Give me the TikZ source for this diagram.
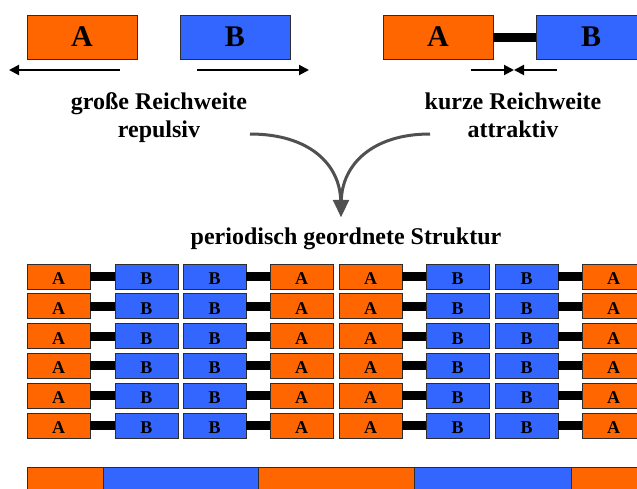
\documentclass[tikz,border=0pt]{standalone}
\usepackage{fontspec}
\setmainfont{Liberation Serif}
\usetikzlibrary{arrows.meta}
\definecolor{orA}{RGB}{255,102,0}
\definecolor{blB}{RGB}{51,102,255}
\definecolor{edgec}{RGB}{45,45,45}
\definecolor{curvc}{RGB}{80,80,80}
\begin{document}
\begin{tikzpicture}[x=1pt,y=-1pt,
  mol/.style={draw=edgec,line width=0.9pt,inner sep=0pt,outer sep=0pt},
  bigbox/.style={mol,minimum width=110pt,minimum height=44pt,font=\fontsize{30}{30}\selectfont\bfseries},
  cellbox/.style={mol,minimum width=63pt,minimum height=25pt,text height=16pt,text depth=0pt,font=\fontsize{18}{18}\selectfont\bfseries},
  bond/.style={line width=9pt,black},
  force/.style={line width=2pt,-{Triangle[length=10pt,width=10pt]}},
  lbl/.style={anchor=base,inner sep=0pt,font=\fontsize{24}{28}\selectfont\bfseries},
  curve/.style={draw=curvc,line width=3pt,-{Triangle[length=17pt,width=15pt]}}
]
\clip (0,0) rectangle (637,488);
\fill[white] (0,0) rectangle (637,488);

% top left: repulsive
\node[bigbox,fill=orA] (tA1) at (82,37) {A};
\node[bigbox,fill=blB] (tB1) at (235,37) {B};
\coordinate (l1s) at (120,70); \coordinate (l1e) at (9,70);
\coordinate (r1s) at (197,70); \coordinate (r1e) at (309,70);
\draw[force] (l1s) -- (l1e);
\draw[force] (r1s) -- (r1e);
\node[lbl] (txt1a) at (159,109) {große Reichweite};
\node[lbl] (txt1b) at (159,137) {repulsiv};

% top right: attractive
\node[bigbox,fill=orA] (tA2) at (438,37) {A};
\node[bigbox,fill=blB] (tB2) at (591,37) {B};
\draw[bond] (tA2) -- (tB2);
\coordinate (l2s) at (471,70); \coordinate (l2e) at (514,70);
\coordinate (r2s) at (557,70); \coordinate (r2e) at (514,70);
\draw[force] (l2s) -- (l2e);
\draw[force] (r2s) -- (r2e);
\node[lbl] (txt2a) at (513,109) {kurze Reichweite};
\node[lbl] (txt2b) at (513,137) {attraktiv};

% curved arrows
\coordinate (c1) at (250,134);
\coordinate (c2) at (430,134);
\coordinate (tip) at (341,217);
\draw[curve] (c1) .. controls (310,134) and (340,165) .. (tip);
\draw[curve] (c2) .. controls (372,134) and (342,165) .. (tip);

\node[lbl] (title) at (346,244) {periodisch geordnete Struktur};

% grid
\foreach \r in {0,...,5} {
  \foreach \c/\xx/\t/\col in {0/58.5/A/orA,1/146.5/B/blB,2/214.5/B/blB,3/301.5/A/orA,4/370.5/A/orA,5/457.5/B/blB,6/526.5/B/blB,7/613.5/A/orA} {
    \node[cellbox,fill=\col] (g-\r-\c) at (\xx,{276.5+29.8*\r}) {\t};
  }
  \foreach \a/\b in {0/1,2/3,4/5,6/7} {
    \draw[bond] (g-\r-\a) -- (g-\r-\b);
  }
}

% bottom bar
\foreach \xa/\xb/\col in {27/103/orA,103/258/blB,258/414/orA,414/571/blB,571/660/orA} {
  \filldraw[fill=\col,draw=edgec,line width=0.9pt] (\xa,467) rectangle (\xb,500);
}
\end{tikzpicture}
\end{document}
